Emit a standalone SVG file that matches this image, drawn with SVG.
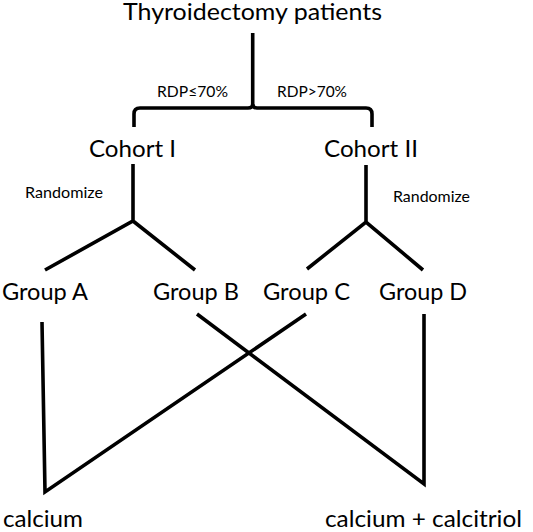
<svg xmlns="http://www.w3.org/2000/svg" width="533" height="532" viewBox="0 0 533 532">
<style>
.t{font-family:Lato,"Open Sans","Liberation Sans",sans-serif;fill:#000}
.big{font-size:24px}
.sm{font-size:15px}
.ln{stroke:#000;stroke-width:3.6;fill:none;stroke-linecap:butt;stroke-linejoin:miter}
</style>
<rect width="533" height="532" fill="#fff"/>
<g id="connectors">
<path class="ln" d="M252.7,33 V104 Q252.7,108 248,108 H140 Q134,108 134,114 V127"/>
<path class="ln" d="M252.7,104 Q252.7,108 257,108 H366 Q372,108 372,114 V127"/>
<path class="ln" d="M133,164 V221 M45,270 L133,221 L195,270"/>
<path class="ln" d="M366,165 V222 M307,269 L366,222 L423,270"/>
<path class="ln" d="M42,322 L45,492 L306,314"/>
<path class="ln" d="M197,314 L424,484 L424,314"/>
</g>
<g id="title"><text class="t big" x="123" y="20" textLength="259" lengthAdjust="spacingAndGlyphs">Thyroidectomy patients</text></g>
<g id="rdp-le"><text class="t sm" x="157" y="97" textLength="71" lengthAdjust="spacingAndGlyphs">RDP≤70%</text></g>
<g id="rdp-gt"><text class="t sm" x="277" y="97" textLength="70" lengthAdjust="spacingAndGlyphs">RDP&gt;70%</text></g>
<g id="cohort1"><text class="t big" x="89" y="157" textLength="87" lengthAdjust="spacingAndGlyphs">Cohort I</text></g>
<g id="cohort2"><text class="t big" x="324" y="157" textLength="94" lengthAdjust="spacingAndGlyphs">Cohort II</text></g>
<g id="rand1"><text class="t sm" x="25" y="198" textLength="78" lengthAdjust="spacingAndGlyphs">Randomize</text></g>
<g id="rand2"><text class="t sm" x="393" y="202" textLength="77" lengthAdjust="spacingAndGlyphs">Randomize</text></g>
<g id="groupA"><text class="t big" x="2" y="300" textLength="86" lengthAdjust="spacingAndGlyphs">Group A</text></g>
<g id="groupB"><text class="t big" x="153" y="300" textLength="86" lengthAdjust="spacingAndGlyphs">Group B</text></g>
<g id="groupC"><text class="t big" x="263" y="300" textLength="87" lengthAdjust="spacingAndGlyphs">Group C</text></g>
<g id="groupD"><text class="t big" x="379" y="300" textLength="88" lengthAdjust="spacingAndGlyphs">Group D</text></g>
<g id="calcium"><text class="t big" x="3" y="527" textLength="80" lengthAdjust="spacingAndGlyphs">calcium</text></g>
<g id="calcitriol"><text class="t big" x="325" y="527" textLength="197" lengthAdjust="spacingAndGlyphs">calcium + calcitriol</text></g>
</svg>
